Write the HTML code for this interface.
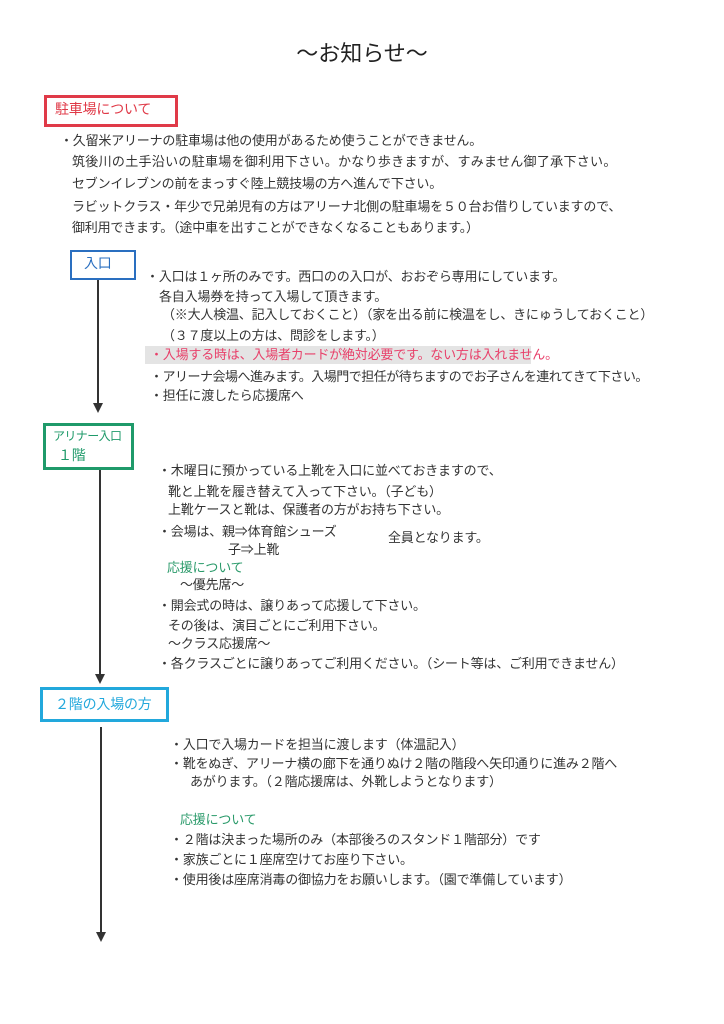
<!DOCTYPE html>
<html><head><meta charset="utf-8"><style>
body{margin:0;background:#fff}
#p{position:relative;width:724px;height:1024px;overflow:hidden;font-family:"Liberation Sans","Noto Sans CJK JP",sans-serif;color:#333;}
.t{position:absolute;font-size:13px;line-height:16px;white-space:nowrap;letter-spacing:-0.2px}
.b{position:absolute;box-sizing:border-box;background:#fff}
.v{position:absolute;width:2px;background:#333}
.a{position:absolute;width:0;height:0;border-left:5px solid transparent;border-right:5px solid transparent;border-top:10px solid #333}
.g{color:#2a9a6a}
</style></head><body><div id="p">
<div class="t" style="left:0;width:724px;text-align:center;top:40px;font-size:22px;line-height:28px;color:#222;letter-spacing:0">～お知らせ～</div>

<div class="b" style="left:44px;top:95px;width:134px;height:32px;border:3px solid #e03a48"></div>
<div class="t" style="left:55px;top:101px;font-size:14px;color:#e03a48">駐車場について</div>
<div class="t" style="left:60px;top:133px">・久留米アリーナの駐車場は他の使用があるため使うことができません。</div>
<div class="t" style="left:72px;top:154px;letter-spacing:0.3px">筑後川の土手沿いの駐車場を御利用下さい。かなり歩きますが、すみません御了承下さい。</div>
<div class="t" style="left:72px;top:176px">セブンイレブンの前をまっすぐ陸上競技場の方へ進んで下さい。</div>
<div class="t" style="left:72px;top:199px">ラビットクラス・年少で兄弟児有の方はアリーナ北側の駐車場を５０台お借りしていますので、</div>
<div class="t" style="left:72px;top:220px">御利用できます。（途中車を出すことができなくなることもあります。）</div>

<div class="b" style="left:70px;top:250px;width:66px;height:30px;border:2px solid #2a6fc0"></div>
<div class="t" style="left:84px;top:255px;font-size:14px;color:#2a6fc0">入口</div>
<div class="v" style="left:97px;top:280px;height:124px"></div>
<div class="a" style="left:93px;top:403px"></div>
<div class="t" style="left:146px;top:269px">・入口は１ヶ所のみです。西口のの入口が、おおぞら専用にしています。</div>
<div class="t" style="left:159px;top:289px">各自入場券を持って入場して頂きます。</div>
<div class="t" style="left:162px;top:307px">（※大人検温、記入しておくこと）（家を出る前に検温をし、きにゅうしておくこと）</div>
<div class="t" style="left:162px;top:328px">（３７度以上の方は、問診をします。）</div>
<div style="position:absolute;left:145px;top:346px;width:386px;height:18px;background:#e4e4e4"></div>
<div class="t" style="left:150px;top:347px;color:#e8406a">・入場する時は、入場者カードが絶対必要です。ない方は入れません。</div>
<div class="t" style="left:150px;top:369px;letter-spacing:-0.5px">・アリーナ会場へ進みます。入場門で担任が待ちますのでお子さんを連れてきて下さい。</div>
<div class="t" style="left:150px;top:388px">・担任に渡したら応援席へ</div>

<div class="b" style="left:43px;top:423px;width:91px;height:47px;border:3px solid #1f9a6a"></div>
<div class="t" style="left:53px;top:428px;font-size:12px;letter-spacing:-0.6px;color:#1f9a6a">アリナー入口</div>
<div class="t" style="left:58px;top:447px;font-size:14px;color:#1f9a6a">１階</div>
<div class="v" style="left:99px;top:470px;height:205px"></div>
<div class="a" style="left:95px;top:674px"></div>
<div class="t" style="left:158px;top:463px">・木曜日に預かっている上靴を入口に並べておきますので、</div>
<div class="t" style="left:168px;top:484px">靴と上靴を履き替えて入って下さい。（子ども）</div>
<div class="t" style="left:168px;top:502px">上靴ケースと靴は、保護者の方がお持ち下さい。</div>
<div class="t" style="left:158px;top:524px">・会場は、親⇒体育館シューズ</div>
<div class="t" style="left:388px;top:530px">全員となります。</div>
<div class="t" style="left:228px;top:542px">子⇒上靴</div>
<div class="t g" style="left:167px;top:560px">応援について</div>
<div class="t" style="left:180px;top:577px">～優先席～</div>
<div class="t" style="left:158px;top:598px">・開会式の時は、譲りあって応援して下さい。</div>
<div class="t" style="left:168px;top:618px">その後は、演目ごとにご利用下さい。</div>
<div class="t" style="left:168px;top:636px">～クラス応援席～</div>
<div class="t" style="left:158px;top:656px">・各クラスごとに譲りあってご利用ください。（シート等は、ご利用できません）</div>

<div class="b" style="left:40px;top:687px;width:129px;height:35px;border:3px solid #22a8dc"></div>
<div class="t" style="left:55px;top:696px;font-size:14px;color:#22a8dc">２階の入場の方</div>
<div class="v" style="left:100px;top:727px;height:206px"></div>
<div class="a" style="left:96px;top:932px"></div>
<div class="t" style="left:170px;top:737px">・入口で入場カードを担当に渡します（体温記入）</div>
<div class="t" style="left:170px;top:756px">・靴をぬぎ、アリーナ横の廊下を通りぬけ２階の階段へ矢印通りに進み２階へ</div>
<div class="t" style="left:190px;top:774px">あがります。（２階応援席は、外靴しようとなります）</div>
<div class="t g" style="left:180px;top:812px">応援について</div>
<div class="t" style="left:170px;top:832px">・２階は決まった場所のみ（本部後ろのスタンド１階部分）です</div>
<div class="t" style="left:170px;top:852px">・家族ごとに１座席空けてお座り下さい。</div>
<div class="t" style="left:170px;top:872px">・使用後は座席消毒の御協力をお願いします。（園で準備しています）</div>
</div></body></html>
